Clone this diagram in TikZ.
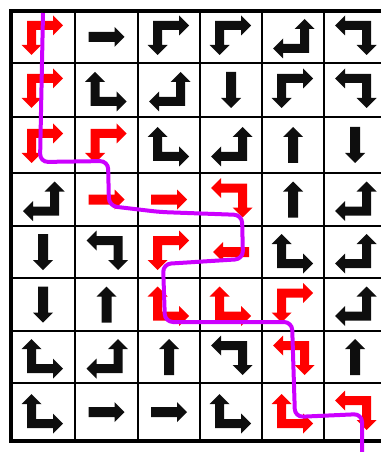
\documentclass[tikz,border=0pt]{standalone}
\usepackage{tikz}
\usetikzlibrary{arrows.meta}
\definecolor{piros}{RGB}{255,0,0}
\definecolor{fekete}{RGB}{14,14,14}
\definecolor{lila}{RGB}{204,0,255}
\tikzset{
  racs/.style={line width=1pt,black},
  keret/.style={line width=3.4pt,black},
  utvonal/.style={line width=3pt,lila,rounded corners=6pt,line join=round},
  % kanyarodo nyil: also es jobb fej
  pics/kanyar/.style={code={
    \fill (-16,-16) -- (10,-16) -- (10,-21.5) -- (20,-11.5) -- (10,-1.5) -- (10,-7) -- (-7,-7)
      -- (-7,8) -- (-1.5,8) -- (-11.5,18) -- (-21.5,8) -- (-16,8) -- cycle;}},
  pics/egyenes/.style={code={
    \fill (-18,-5) -- (8,-5) -- (8,-10) -- (18,0) -- (8,10) -- (8,5) -- (-18,5) -- cycle;}},
  dr/.style={},
  dl/.style={xscale=-1},
  ur/.style={yscale=-1},
  ul/.style={xscale=-1,yscale=-1},
  iR/.style={},
  iL/.style={rotate=180},
  iU/.style={rotate=90},
  iD/.style={rotate=-90},
}

\begin{document}
\begin{tikzpicture}[x=0.75pt,y=-0.75pt]
  \useasboundingbox (0,0) rectangle (381,452);
  % racs
  \foreach \x in {75,138,200,262,324} \draw[racs] (\x,11) -- (\x,441);
  \foreach \y in {63,117,173,226,278,331,383} \draw[racs] (11,\y) -- (381,\y);
  \draw[keret] (381,11) -- (11,11) -- (11,441) -- (381,441);
  % nyilak soronkent
  \foreach \alak/\irany/\szin [count=\i from 0] in {
      kanyar/dr/piros, egyenes/iR/fekete, kanyar/dr/fekete, kanyar/dr/fekete, kanyar/ul/fekete, kanyar/dl/fekete,
      kanyar/dr/piros, kanyar/ur/fekete, kanyar/ul/fekete, egyenes/iD/fekete, kanyar/dr/fekete, kanyar/dl/fekete,
      kanyar/dr/piros, kanyar/dr/piros, kanyar/ur/fekete, kanyar/ul/fekete, egyenes/iU/fekete, egyenes/iD/fekete,
      kanyar/ul/fekete, egyenes/iR/piros, egyenes/iR/piros, kanyar/dl/piros, egyenes/iU/fekete, kanyar/ul/fekete,
      egyenes/iD/fekete, kanyar/dl/fekete, kanyar/dr/piros, egyenes/iL/piros, kanyar/ur/fekete, kanyar/ul/fekete,
      egyenes/iD/fekete, egyenes/iU/fekete, kanyar/ur/piros, kanyar/ur/piros, kanyar/dr/piros, kanyar/ul/fekete,
      kanyar/ur/fekete, kanyar/ul/fekete, egyenes/iU/fekete, kanyar/dl/fekete, kanyar/dl/piros, egyenes/iU/fekete,
      kanyar/ur/fekete, egyenes/iR/fekete, egyenes/iR/fekete, kanyar/ur/fekete, kanyar/ur/piros, kanyar/dl/piros} {
    \pgfmathtruncatemacro{\oszlop}{mod(\i,6)}
    \pgfmathtruncatemacro{\sor}{div(\i,6)}
    \pgfmathsetmacro{\sx}{{43,106.5,169,231,293,355}[\oszlop]}
    \pgfmathsetmacro{\sy}{{37,90,145,199.5,252,304.5,357,412}[\sor]}
    \pic[\irany,\szin] at (\sx,\sy) {\alak};
  }
  % utvonal
  \draw[utvonal] (43,13) -- (40,162) -- (108,161) -- (109,206) -- (160,212) -- (242,215) -- (243,259)
    -- (163,264) -- (165,322) -- (292,322) -- (295,417) -- (362,414) -- (362,452);
\end{tikzpicture}
\end{document}
